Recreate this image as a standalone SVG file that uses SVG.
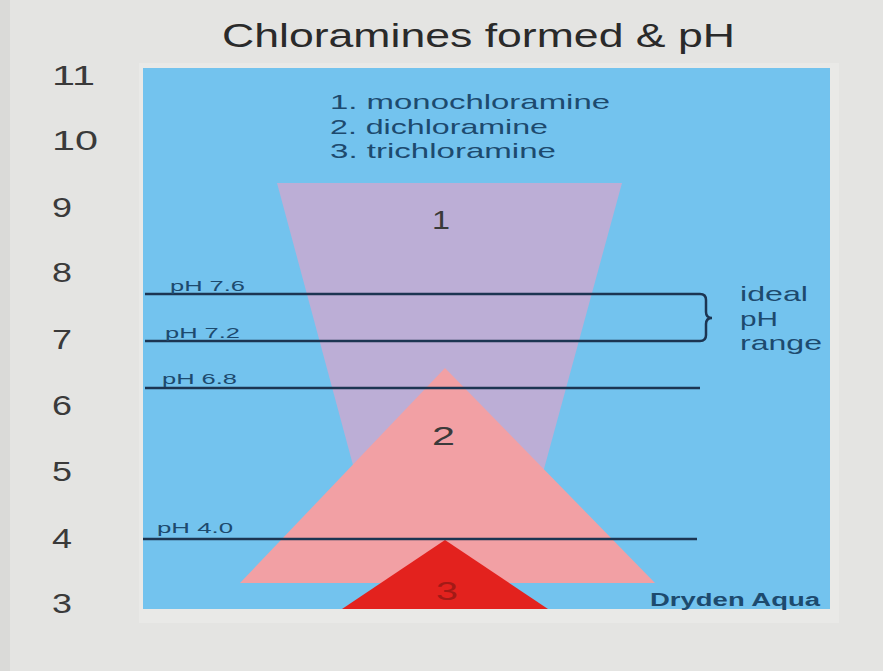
<svg xmlns="http://www.w3.org/2000/svg" width="883" height="671" viewBox="0 0 883 671">
<style>
.axis{font-family:"Liberation Sans",Arial,sans-serif;font-size:27px;fill:#3a3a3a}
.legend{font-family:"Liberation Sans",Arial,sans-serif;font-size:21px;fill:#1d4a6e}
.phl{font-family:"Liberation Sans",Arial,sans-serif;font-size:14px;fill:#1d4a6e}
.num{font-family:"Liberation Sans",Arial,sans-serif;font-size:25px;fill:#3a3a3a}
.ph{stroke:#1c3552;stroke-width:2.5;fill:none}
</style>
<rect x="0" y="0" width="883" height="671" fill="#e4e4e2"/>
<rect x="0" y="0" width="10" height="671" fill="#dadad8"/>
<rect x="139" y="63" width="700" height="560" fill="#e9e9e7"/>
<rect x="143" y="68" width="687" height="541" fill="#73c3ee"/>
<text x="222" y="47" textLength="513" lengthAdjust="spacingAndGlyphs" font-family="Liberation Sans, Arial, sans-serif" font-size="33" fill="#2a2a2a">Chloramines formed &amp; pH</text>
<g id="axis">
<text class="axis" x="52" y="85" textLength="43" lengthAdjust="spacingAndGlyphs">11</text>
<text class="axis" x="52" y="150" textLength="46" lengthAdjust="spacingAndGlyphs">10</text>
<text class="axis" x="52" y="217" textLength="20" lengthAdjust="spacingAndGlyphs">9</text>
<text class="axis" x="52" y="282" textLength="20" lengthAdjust="spacingAndGlyphs">8</text>
<text class="axis" x="52" y="349" textLength="20" lengthAdjust="spacingAndGlyphs">7</text>
<text class="axis" x="52" y="415" textLength="20" lengthAdjust="spacingAndGlyphs">6</text>
<text class="axis" x="52" y="481" textLength="20" lengthAdjust="spacingAndGlyphs">5</text>
<text class="axis" x="52" y="548" textLength="20" lengthAdjust="spacingAndGlyphs">4</text>
<text class="axis" x="52" y="613" textLength="20" lengthAdjust="spacingAndGlyphs">3</text>
</g>
<g id="legend">
<text class="legend" x="330" y="109" textLength="280" lengthAdjust="spacingAndGlyphs">1. monochloramine</text>
<text class="legend" x="330" y="134" textLength="218" lengthAdjust="spacingAndGlyphs">2. dichloramine</text>
<text class="legend" x="330" y="158" textLength="226" lengthAdjust="spacingAndGlyphs">3. trichloramine</text>
</g>
<g id="mono">
<polygon points="277,183 622,183 541,480 357,480" fill="#bcaed6"/>
<text class="num" x="432" y="229" textLength="18" lengthAdjust="spacingAndGlyphs">1</text>
</g>
<g id="di">
<polygon points="445,368 655,583 240,583" fill="#f2a0a4"/>
<text class="num" x="432" y="445" textLength="23" lengthAdjust="spacingAndGlyphs">2</text>
</g>
<g id="tri">
<polygon points="445,540 548,609 342,609" fill="#e3221e"/>
<text class="num" x="436" y="600" textLength="22" lengthAdjust="spacingAndGlyphs" style="fill:#a31a16">3</text>
</g>
<g id="connectors">
<path class="ph" d="M145,294 H700 Q706,294 706,300 V312 Q706,318 712,318 Q706,318 706,324 V335 Q706,341 700,341 H145"/>
<line class="ph" x1="145" y1="388" x2="700" y2="388"/>
<line class="ph" x1="143" y1="539" x2="697" y2="539"/>
</g>
<g id="labels">
<text class="phl" x="170" y="291" textLength="75" lengthAdjust="spacingAndGlyphs">pH 7.6</text>
<text class="phl" x="165" y="338" textLength="75" lengthAdjust="spacingAndGlyphs">pH 7.2</text>
<text class="phl" x="162" y="384" textLength="75" lengthAdjust="spacingAndGlyphs">pH 6.8</text>
<text class="phl" x="157" y="533" textLength="76" lengthAdjust="spacingAndGlyphs">pH 4.0</text>
<text class="legend" x="740" y="301" textLength="68" lengthAdjust="spacingAndGlyphs">ideal</text>
<text class="legend" x="740" y="326" textLength="38" lengthAdjust="spacingAndGlyphs">pH</text>
<text class="legend" x="740" y="350" textLength="82" lengthAdjust="spacingAndGlyphs">range</text>
<text x="650" y="606" textLength="170" lengthAdjust="spacingAndGlyphs" font-family="Liberation Sans, Arial, sans-serif" font-size="18" font-weight="bold" fill="#1d4a6e">Dryden Aqua</text>
</g>
</svg>
